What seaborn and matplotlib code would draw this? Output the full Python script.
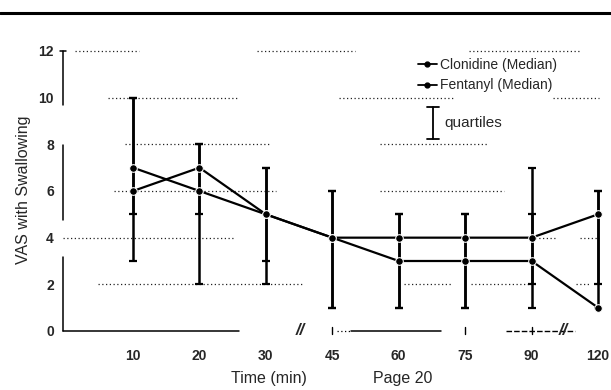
import numpy as np
import pandas as pd
import matplotlib
matplotlib.use("Agg")
import matplotlib.pyplot as plt
import seaborn as sns
from matplotlib.lines import Line2D

# Data (VAS with swallowing, medians and quartiles)
time_labels = ["10", "20", "30", "45", "60", "75", "90", "120"]
clonidine_median = [7, 6, 5, 4, 4, 4, 4, 5]
clonidine_q1 = [5, 5, 3, 1, 1, 1, 2, 2]
clonidine_q3 = [10, 8, 7, 6, 5, 5, 7, 6]
fentanyl_median = [6, 7, 5, 4, 3, 3, 3, 1]
fentanyl_q1 = [3, 2, 2, 1, 1, 1, 1, 1]
fentanyl_q3 = [10, 8, 7, 6, 5, 5, 5, 6]

pos = np.arange(len(time_labels))
df = pd.DataFrame({
    "pos": np.concatenate([pos, pos]),
    "vas": clonidine_median + fentanyl_median,
    "group": ["Clonidine (Median)"] * len(pos) + ["Fentanyl (Median)"] * len(pos),
})

sns.set_style("white")
plt.rcParams["font.family"] = ["Liberation Sans", "DejaVu Sans"]

fig = plt.figure(figsize=(6.11, 3.9), dpi=100)
ax = fig.add_axes([0.1031, 0.1453, 0.892, 0.7359])

# quartile bars
for med, q1, q3 in [(clonidine_median, clonidine_q1, clonidine_q3),
                    (fentanyl_median, fentanyl_q1, fentanyl_q3)]:
    med = np.array(med)
    yerr = [med - np.array(q1), np.array(q3) - med]
    ax.errorbar(pos, med, yerr=yerr, fmt="none", ecolor="black",
                elinewidth=1.8, capsize=3.2, capthick=1.6)

sns.lineplot(data=df, x="pos", y="vas", hue="group", style="group",
             palette=["black", "black"], markers=["o", "o"], dashes=False,
             markersize=5.5, linewidth=1.6, ax=ax, legend=False)

ax.set_xlim(-1.054, 7.15)
ax.set_ylim(-0.1, 12.2)

# dotted gridlines, fragmented like the scanned original
grid_pieces = {
    12: [(-0.87, 0.09), (1.87, 3.34), (5.06, 6.73)],
    10: [(-0.38, 1.60), (3.10, 4.85), (6.32, 7.02)],
    8: [(-0.12, 2.08), (3.72, 5.34)],
    6: [(-0.29, 2.15), (3.72, 5.58)],
    4: [(-1.05, 1.54), (6.05, 6.38), (6.73, 7.02)],
    2: [(-0.53, 2.57), (4.08, 4.79), (5.09, 6.05), (6.67, 6.88)],
}
for yv, pieces in grid_pieces.items():
    for a, b in pieces:
        ax.plot([a, b], [yv, yv], color="#222222", lw=0.9, ls=(0, (1, 2)), zorder=0)

for s in ax.spines.values():
    s.set_visible(False)

# broken axes like the original
x0 = -1.054
for a, b in [(9.7, 12), (4.76, 7.97), (0, 3.17)]:
    ax.plot([x0, x0], [a, b], color="black", lw=1.1, clip_on=False)
ax.plot([x0 - 0.05, x0 + 0.05], [12, 12], color="black", lw=1.1, clip_on=False)
ax.plot([x0, 1.6], [0, 0], color="black", lw=1.1, clip_on=False)
ax.plot([3.07, 3.28], [0, 0], color="black", lw=0.9, ls=(0, (1, 2)), clip_on=False)
ax.plot([3.28, 4.64], [0, 0], color="black", lw=1.1, clip_on=False)
ax.plot([5.61, 6.65], [0, 0], color="black", lw=1.0, ls=(0, (4, 1.5)), clip_on=False)
for xb in [2.51, 6.47]:
    ax.text(xb, 0, "//", ha="center", va="center", fontsize=12,
            fontstyle="italic", fontweight="bold")
for xb in [3, 5, 6]:
    ax.plot([xb, xb], [-0.15, 0.15], color="black", lw=1.0, clip_on=False)

ax.set_xticks(pos)
ax.set_xticklabels(time_labels, fontsize=10, fontweight="bold")
ax.set_yticks([0, 2, 4, 6, 8, 10, 12])
ax.set_yticklabels(["0", "2", "4", "6", "8", "10", "12"], fontsize=10,
                   fontweight="bold")
ax.tick_params(axis="x", length=0, pad=11.5)
ax.tick_params(axis="y", length=0, pad=6.5)

ax.set_ylabel("VAS with Swallowing", fontsize=11.5)
ax.yaxis.set_label_coords(-0.058, 0.5)
ax.set_xlabel("")
fig.text(269 / 611, 1 - 379 / 390, "Time (min)", ha="center", va="center", fontsize=11.5)
fig.text(403 / 611, 1 - 379 / 390, "Page 20", ha="center", va="center", fontsize=11.5)

# legend
handles = [Line2D([0], [0], color="black", lw=1.3, marker="o", markersize=3.5),
           Line2D([0], [0], color="black", lw=1.3, marker="o", markersize=3.5)]
fig.legend(handles, ["Clonidine (Median)", "Fentanyl (Median)"],
           loc="upper left", bbox_to_anchor=(412 / 611, 1 - 52 / 390),
           frameon=False, fontsize=10, handlelength=1.4, handletextpad=0.2,
           labelspacing=0.5, borderaxespad=0)
ax.annotate("", xy=(433, 390 - 107), xytext=(433, 390 - 139),
            xycoords="figure pixels", textcoords="figure pixels",
            arrowprops=dict(arrowstyle="|-|,widthA=0.45,widthB=0.45", lw=1.3,
                            color="black", shrinkA=0, shrinkB=0))
fig.text(444 / 611, 1 - 123 / 390, "quartiles", ha="left", va="center", fontsize=11)

# header rule across the top of the page
fig.add_artist(Line2D([0, 1], [1 - 13 / 390, 1 - 13 / 390], transform=fig.transFigure,
                      color="black", lw=2.2))

fig.savefig("out.png", dpi=100)
